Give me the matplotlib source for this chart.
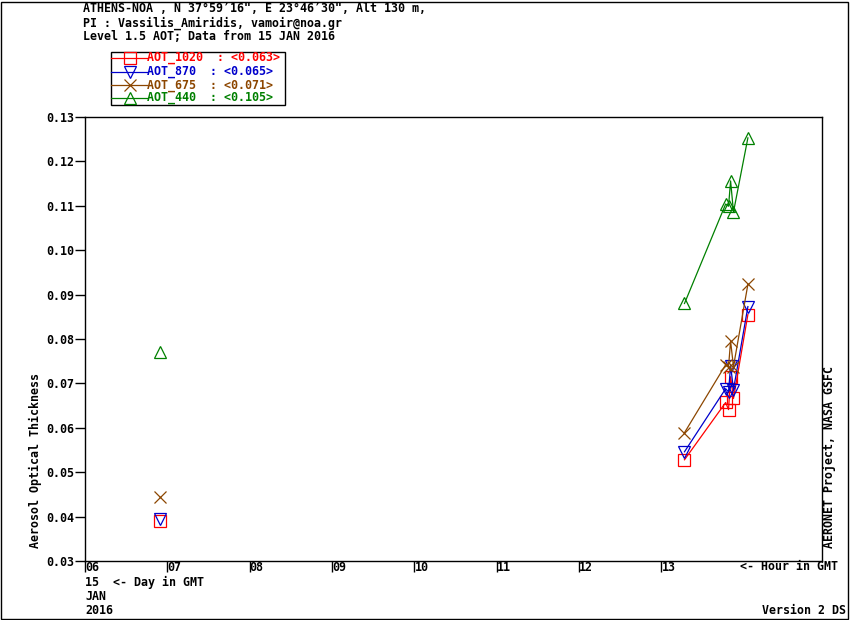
import matplotlib
matplotlib.use('Agg')
import matplotlib.pyplot as plt
from matplotlib.lines import Line2D
from matplotlib.patches import Rectangle
import numpy as np

plt.rcParams['font.family'] = 'DejaVu Sans Mono'
plt.rcParams['font.weight'] = 'bold'

# hour of day (GMT) on 15 JAN 2016
hours = [6.91, 13.28, 13.78, 13.815, 13.84, 13.875, 14.05]
aot_1020 = [0.0390, 0.0528, 0.0657, 0.0641, 0.0715, 0.0666, 0.0855]
aot_870 = [0.0395, 0.0546, 0.0688, 0.0681, 0.0740, 0.0686, 0.0873]
aot_675 = [0.0444, 0.0589, 0.0742, 0.0738, 0.0795, 0.0738, 0.0923]
aot_440 = [0.0770, 0.0880, 0.1104, 0.1099, 0.1156, 0.1086, 0.1253]

names = ['AOT_1020  ', 'AOT_870  ', 'AOT_675  ', 'AOT_440  ']
means = ['<0.063>', '<0.065>', '<0.071>', '<0.105>']
colors = ['#ff0000', '#0000cc', '#8c4600', '#008000']
markers = ['s', 'v', 'x', '^']
series = [aot_1020, aot_870, aot_675, aot_440]

hour_ticks = [6, 7, 8, 9, 10, 11, 12, 13]
y_ticks = [0.03, 0.04, 0.05, 0.06, 0.07, 0.08, 0.09, 0.10, 0.11, 0.12, 0.13]

W, H = 850, 620
fig = plt.figure(figsize=(8.5, 6.2), dpi=100)
fig.patches.append(Rectangle((1 / W, 1 / H), 1 - 3 / W, 1 - 3 / H, transform=fig.transFigure,
                             fill=False, edgecolor='black', lw=1))

ax = fig.add_axes([85 / W, (H - 561) / H, (822 - 85) / W, (561 - 117) / H])

hrs = np.array(hours)
# split into segments where there's a gap of more than an hour
breaks = np.where(np.diff(hrs) > 1)[0] + 1
segs = np.split(np.arange(len(hrs)), breaks)

for vals, c, m in zip(series, colors, markers):
    v = np.array(vals)
    for s in segs:
        ax.plot(hrs[s], v[s], color=c, lw=0.9)
    ax.plot(hrs, v, ls='none', marker=m, ms=8.5 if m != 'x' else 9, mec=c, mfc='none', mew=0.9)

ax.set_xlim(6, 14.95)
ax.set_ylim(0.03, 0.13)
ax.set_yticks(y_ticks)
ax.set_yticklabels(['%.2f' % t for t in y_ticks], fontsize=8.4, fontweight='bold')
ax.set_xticks(hour_ticks)
ax.set_xticklabels(['%02d' % h for h in hour_ticks], fontsize=8.4, ha='left', fontweight='bold')
ax.tick_params(axis='y', direction='out', length=7, width=1, pad=1)
ax.tick_params(axis='x', direction='out', length=8, width=1, pad=-8)
for sp in ax.spines.values():
    sp.set_linewidth(1)

def ft(x, y, s, **kw):
    fig.text(x / W, 1 - y / H, s, fontsize=8.4, fontweight='bold', **kw)

ft(83, 9, 'ATHENS-NOA , N 37\u00b059\u203216", E 23\u00b046\u203230", Alt 130 m,', va='center')
ft(83, 23, 'PI : Vassilis_Amiridis, vamoir@noa.gr', va='center')
ft(83, 36, 'Level 1.5 AOT; Data from 15 JAN 2016', va='center')

ft(740, 567, '<- Hour in GMT', va='center')
ft(85, 582, '15  <- Day in GMT', va='center')
ft(85, 597, 'JAN', va='center')
ft(85, 611, '2016', va='center')
ft(846, 611, 'Version 2 DS', va='center', ha='right')
ft(35, 548, 'Aerosol Optical Thickness', rotation=90, va='bottom', ha='center')
ft(830, 548, 'AERONET Project, NASA GSFC', rotation=90, va='bottom', ha='center')

# legend box
fig.patches.append(Rectangle((111 / W, 1 - 105 / H), (285 - 111) / W, (105 - 52) / H,
                             transform=fig.transFigure, fill=False, edgecolor='black', lw=1))
row_y = [58, 72, 85, 98]
for ry, n, mv, c, m in zip(row_y, names, means, colors, markers):
    yy = 1 - ry / H
    fig.lines.append(Line2D([111 / W, 147 / W], [yy, yy], transform=fig.transFigure, color=c, lw=0.9))
    fig.lines.append(Line2D([130 / W], [yy], transform=fig.transFigure, ls='none', marker=m,
                            ms=9, mec=c, mfc='none', mew=0.9))
    ft(147, ry, n + ': ' + mv, va='center', color=c)

fig.savefig('out.png', dpi=100)
